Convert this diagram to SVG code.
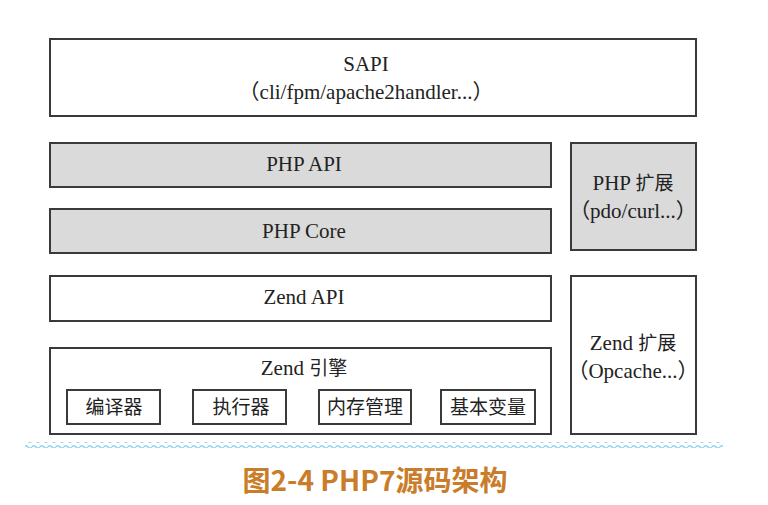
<svg xmlns="http://www.w3.org/2000/svg" width="768" height="505" viewBox="0 0 768 505">
<defs>
<style>
.box{fill:#ffffff;stroke:#3a3a3a;stroke-width:2}
.gray{fill:#dadada;stroke:#3a3a3a;stroke-width:2}
.t{font-family:'Liberation Serif','Noto Sans CJK SC',serif;font-size:21px;fill:#222;text-anchor:middle}
.c{font-size:19px}
.cap{font-family:'Noto Sans CJK SC','Liberation Sans',sans-serif;font-size:28px;font-weight:bold;fill:#c97d2a;text-anchor:middle}
</style>
<pattern id="wave" x="0" y="0" width="8" height="6" patternUnits="userSpaceOnUse">
<path d="M0 3 Q2 0.5 4 3 T8 3" fill="none" stroke="#8fd0f5" stroke-width="1.4"/>
</pattern>
</defs>
<rect width="768" height="505" fill="#ffffff"/>
<g id="sapi">
<rect class="box" x="50" y="39" width="646" height="77"/>
<text class="t" x="366" y="71">SAPI</text>
<text class="t" x="366" y="99">（cli/fpm/apache2handler...）</text>
</g>
<g id="php-api">
<rect class="gray" x="50" y="143" width="501" height="44"/>
<text class="t" x="304" y="171">PHP API</text>
</g>
<g id="php-core">
<rect class="gray" x="50" y="209" width="501" height="44"/>
<text class="t" x="304" y="238">PHP Core</text>
</g>
<g id="php-ext">
<rect class="gray" x="571" y="143" width="125" height="107"/>
<text class="t" x="633" y="190">PHP <tspan class="c">扩展</tspan></text>
<text class="t" x="633" y="218">（pdo/curl...）</text>
</g>
<g id="zend-api">
<rect class="box" x="50" y="276" width="501" height="45"/>
<text class="t" x="304" y="304">Zend API</text>
</g>
<g id="zend-engine">
<rect class="box" x="50" y="348" width="501" height="86"/>
<text class="t" x="304" y="375">Zend <tspan class="c">引擎</tspan></text>
</g>
<g id="compiler">
<rect class="box" x="67" y="390" width="93" height="34"/>
<text class="t c" x="114" y="414">编译器</text>
</g>
<g id="executor">
<rect class="box" x="193" y="390" width="93" height="34"/>
<text class="t c" x="241" y="414">执行器</text>
</g>
<g id="memory">
<rect class="box" x="319" y="390" width="92" height="34"/>
<text class="t c" x="365" y="414">内存管理</text>
</g>
<g id="variables">
<rect class="box" x="441" y="390" width="94" height="34"/>
<text class="t c" x="488" y="414">基本变量</text>
</g>
<g id="zend-ext">
<rect class="box" x="571" y="276" width="125" height="158"/>
<text class="t" x="633" y="350">Zend <tspan class="c">扩展</tspan></text>
<text class="t" x="633" y="378">（Opcache...）</text>
</g>
<g id="connectors"></g>
<rect x="25" y="442" width="698" height="6" fill="url(#wave)"/>
<text class="cap" x="375" y="491">图2-4 PHP7源码架构</text>
</svg>
